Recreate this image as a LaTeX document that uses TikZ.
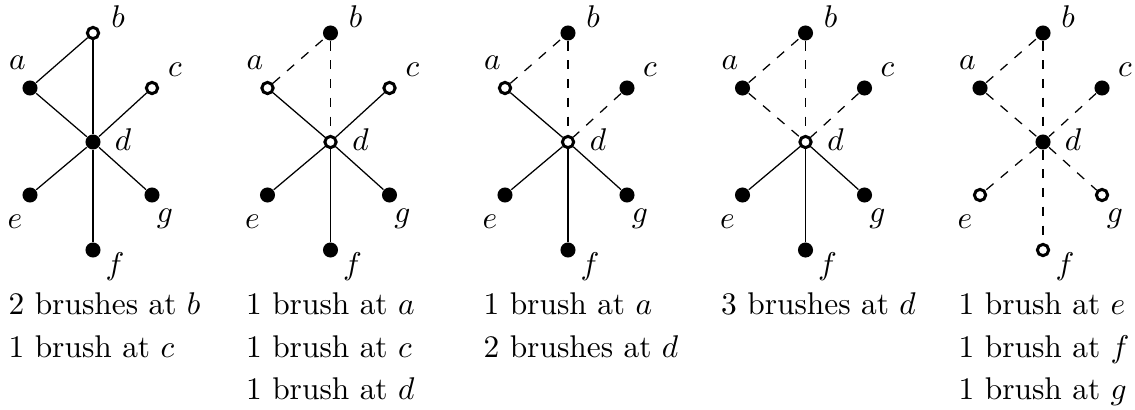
\documentclass[tikz,border=0pt]{standalone}
\begin{document}
\begin{tikzpicture}[x=0.3185pt,y=-0.3185pt,
  vtx/.style={circle,inner sep=0pt},
  full/.style={vtx,fill=black,minimum size=4.8pt},
  hollow/.style={vtx,draw=black,line width=0.95pt,fill=white,minimum size=3.6pt},
  lbl/.style={inner sep=0pt,font=\normalsize},
  txt/.style={inner sep=0pt,anchor=base west},
  sol/.style={line width=0.4pt},
  dsh/.style={line width=0.4pt,dashed}]
\useasboundingbox (0,0) rectangle (1135,409);
\newcommand\graphpanel[9]{%
  \node[#3] (a#1) at (#2-63,88) {};
  \node[#4] (b#1) at (#2,33) {};
  \node[#5] (c#1) at (#2+59,88) {};
  \node[#6] (d#1) at (#2,142) {};
  \node[#7] (e#1) at (#2-63,195) {};
  \node[#8] (f#1) at (#2,250) {};
  \node[#9] (g#1) at (#2+59,195) {};
  \node[lbl] (la#1) at (#2-75.5,63) {$a$};
  \node[lbl] (lb#1) at (#2+25,17) {$b$};
  \node[lbl] (lc#1) at (#2+82,70) {$c$};
  \node[lbl] (ld#1) at (#2+30,140) {$d$};
  \node[lbl] (le#1) at (#2-78,222) {$e$};
  \node[lbl] (lf#1) at (#2+22,267) {$f$};
  \node[lbl] (lg#1) at (#2+72,219) {$g$};
}
\newcommand\graphedges[8]{%
  \draw[#2] (a#1) -- (b#1);
  \draw[#3] (b#1) -- (d#1);
  \draw[#4] (a#1) -- (d#1);
  \draw[#5] (c#1) -- (d#1);
  \draw[#6] (d#1) -- (e#1);
  \draw[#7] (d#1) -- (f#1);
  \draw[#8] (d#1) -- (g#1);
}
% panel 1
\graphpanel{1}{93}{full}{hollow}{hollow}{full}{full}{full}{full}
\graphedges{1}{sol}{sol}{sol}{sol}{sol}{sol}{sol}
\node[txt] (t1a) at (8,314) {2 brushes at $b$};
\node[txt] (t1b) at (8,357) {1 brush at $c$};
% panel 2
\graphpanel{2}{330.5}{hollow}{full}{hollow}{hollow}{full}{full}{full}
\graphedges{2}{dsh}{dsh}{sol}{sol}{sol}{sol}{sol}
\node[txt] (t2a) at (245.5,314) {1 brush at $a$};
\node[txt] (t2b) at (245.5,357) {1 brush at $c$};
\node[txt] (t2c) at (245.5,399) {1 brush at $d$};
% panel 3
\graphpanel{3}{568}{hollow}{full}{full}{hollow}{full}{full}{full}
\graphedges{3}{dsh}{dsh}{sol}{dsh}{sol}{sol}{sol}
\node[txt] (t3a) at (483,314) {1 brush at $a$};
\node[txt] (t3b) at (483,357) {2 brushes at $d$};
% panel 4
\graphpanel{4}{805.5}{full}{full}{full}{hollow}{full}{full}{full}
\graphedges{4}{dsh}{dsh}{dsh}{dsh}{sol}{sol}{sol}
\node[txt] (t4a) at (720.5,314) {3 brushes at $d$};
% panel 5
\graphpanel{5}{1043}{full}{full}{full}{full}{hollow}{hollow}{hollow}
\graphedges{5}{dsh}{dsh}{dsh}{dsh}{dsh}{dsh}{dsh}
\node[txt] (t5a) at (958,314) {1 brush at $e$};
\node[txt] (t5b) at (958,357) {1 brush at $f$};
\node[txt] (t5c) at (958,399) {1 brush at $g$};
\end{tikzpicture}
\end{document}
